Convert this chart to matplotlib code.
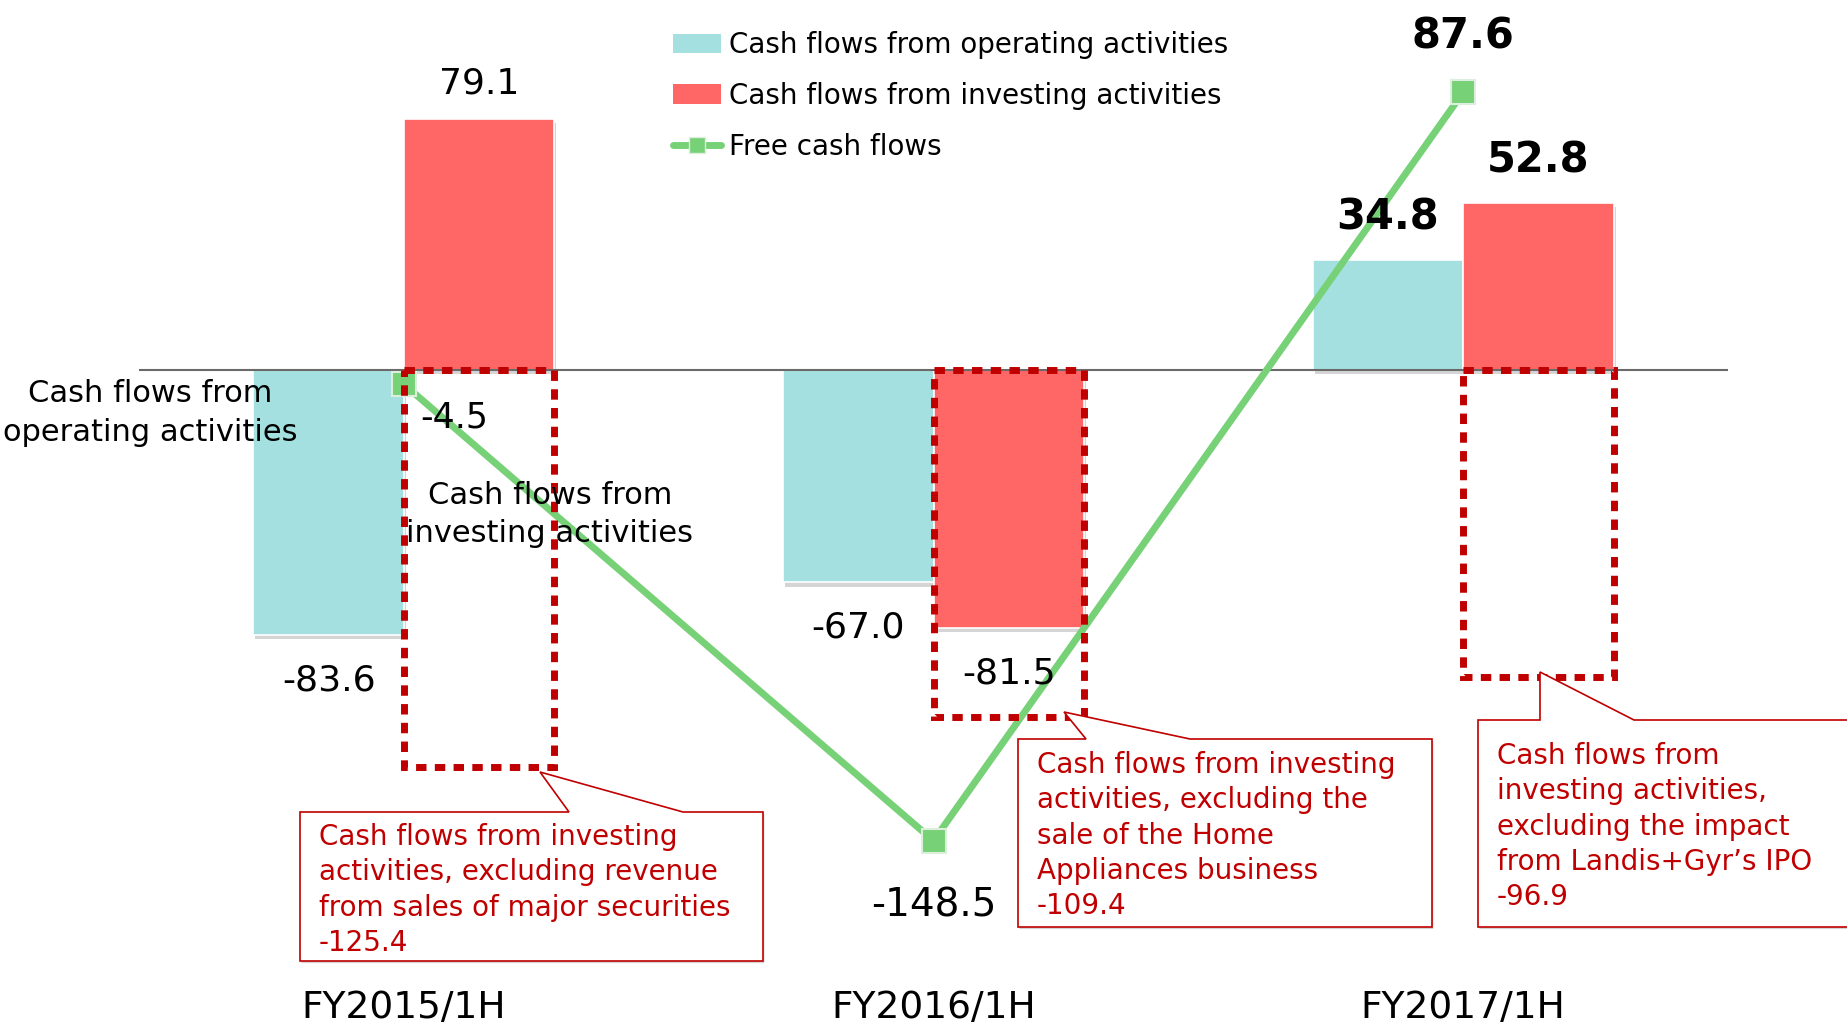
import matplotlib.pyplot as plt
import matplotlib.patheffects as pe
import matplotlib.transforms as mtransforms
from matplotlib.patches import Rectangle, Polygon, Patch
from matplotlib.lines import Line2D

# data
periods = ['FY2015/1H', 'FY2016/1H', 'FY2017/1H']
operating_cf = [-83.6, -67.0, 34.8]
investing_cf = [79.1, -81.5, 52.8]
free_cf = [-4.5, -148.5, 87.6]
investing_cf_adj = [-125.4, -109.4, -96.9]
bold_labels = [False, False, True]

series_names = ['Cash flows from operating activities',
                'Cash flows from investing activities',
                'Free cash flows']

callout_texts = [
    ['Cash flows from investing', 'activities, excluding revenue',
     'from sales of major securities', '-125.4'],
    ['Cash flows from investing', 'activities, excluding the',
     'sale of the Home', 'Appliances business', '-109.4'],
    ['Cash flows from', 'investing activities,', 'excluding the impact',
     'from Landis+Gyr\u2019s IPO', '-96.9'],
]

# colours
c_op = '#A3E0DF'
c_inv = '#FF6666'
c_fcf = '#77D177'
c_dark_red = '#C00000'

W, H = 1847, 1023
fig = plt.figure(figsize=(W / 100, H / 100), dpi=100)
ax = fig.add_axes([139 / W, 0, 1589 / W, 1])
ax.set_xlim(-0.5, 2.5)
ax.set_ylim(-206.0, 116.7)
ax.axis('off')


def fxy(px, py):
    # pixel position (from top-left) -> figure fraction
    return px / W, 1 - py / H


x = list(range(len(periods)))
w = 0.284
shadow = [pe.SimplePatchShadow(offset=(1.5, -3), shadow_rgbFace='#888888', alpha=0.35), pe.Normal()]

bars_op = ax.bar([i - w / 2 for i in x], operating_cf, width=w, color=c_op,
                 edgecolor='white', linewidth=1.2, zorder=2)
bars_inv = ax.bar([i + w / 2 for i in x], investing_cf, width=w, color=c_inv,
                  edgecolor='white', linewidth=1.2, zorder=2)
for b in list(bars_op) + list(bars_inv):
    b.set_path_effects(shadow)

ax.axhline(0, color='#6a6a6a', lw=1.5, zorder=2.5)

# free cash flow line
ax.plot(x, free_cf, color=c_fcf, lw=5, marker='s', markersize=17,
        markerfacecolor=c_fcf, markeredgecolor='#dcefdc', markeredgewidth=1.5,
        zorder=3)

# dotted boxes: investing cash flow excluding one-offs
for i, v in zip(x, investing_cf_adj):
    ax.add_patch(Rectangle((i, 0), w, v, fill=False, edgecolor=c_dark_red,
                           lw=5, linestyle=(0, (1.5, 1.2)), joinstyle='miter',
                           capstyle='butt', zorder=4))

# bar value labels
for i in x:
    weight = 'bold' if bold_labels[i] else 'normal'
    size = 30 if bold_labels[i] else 26
    up = 30 if bold_labels[i] else 26
    for xpos, v in [(i - w / 2, operating_cf[i]), (i + w / 2, investing_cf[i])]:
        off = up if v > 0 else -32.5
        ax.annotate(f'{v:.1f}', xy=(xpos, v), xytext=(0, off), textcoords='offset points',
                    ha='center', va='center', fontsize=size, fontweight=weight, zorder=6)

# free cash flow labels
fcf_offsets = [(36, -24), (0, -47), (0, 40)]
fcf_sizes = [25, 28, 30]
for i, v in enumerate(free_cf):
    ax.annotate(f'{v:.1f}', xy=(i, v), xytext=fcf_offsets[i], textcoords='offset points',
                ha='center', va='center', fontsize=fcf_sizes[i],
                fontweight='bold' if bold_labels[i] else 'normal', zorder=6)

# category labels
trans = mtransforms.blended_transform_factory(ax.transData, ax.transAxes)
for i, p in enumerate(periods):
    ax.text(i, 1 - 1008 / H, p, transform=trans, ha='center', va='center', fontsize=27)


def text_lines(px, py, lines, dy, **kw):
    for k, s in enumerate(lines):
        fig.text(*fxy(px, py + k * dy), s, **kw)


# explanation labels
text_lines(150, 393, ['Cash flows from', 'operating activities'], 39,
           ha='center', va='center', fontsize=22, zorder=6)
text_lines(550, 495, ['Cash flows from', 'investing activities'], 39,
           ha='center', va='center', fontsize=22, zorder=6)

# callout boxes
callouts = [
    # box: left, top, right, bottom; pointer tip; pointer base left/right; text start
    dict(box=(300, 812, 763, 961), tip=(540, 772), base=(569, 683), txt=(319, 837)),
    dict(box=(1018, 739, 1432, 927), tip=(1064, 712), base=(1086, 1190), txt=(1037, 765)),
    dict(box=(1478, 720, 1860, 927), tip=(1540, 672), base=(1540, 1634), txt=(1497, 756)),
]
for c, lines in zip(callouts, callout_texts):
    l, t, r, b = c['box']
    bl, br = c['base']
    pts = [(l, t), (bl, t), c['tip'], (br, t), (r, t), (r, b), (l, b)]
    poly = Polygon([fxy(*p) for p in pts], closed=True, facecolor='white',
                   edgecolor=c_dark_red, lw=1.2, transform=fig.transFigure, zorder=5)
    poly.set_path_effects([pe.SimplePatchShadow(offset=(1, -1.5), shadow_rgbFace='#aaaaaa', alpha=0.5),
                           pe.Normal()])
    fig.add_artist(poly)
    text_lines(c['txt'][0], c['txt'][1], lines, 35.3, ha='left', va='center',
               fontsize=20, color=c_dark_red, zorder=6)

# legend
handles = [Patch(facecolor=c_op, edgecolor='none'),
           Patch(facecolor=c_inv, edgecolor='none'),
           Line2D([], [], color=c_fcf, lw=5, marker='s', markersize=17,
                  markerfacecolor=c_fcf, markeredgecolor='#dcefdc', solid_capstyle='round')]
ax.legend(handles, series_names, loc='upper left', bbox_to_anchor=fxy(673, 31),
          bbox_transform=fig.transFigure, frameon=False, fontsize=20,
          handlelength=1.73, handleheight=0.7, handletextpad=0.3,
          labelspacing=0.82, borderpad=0, borderaxespad=0, markerscale=0.65)

fig.savefig('out.png', dpi=100)
